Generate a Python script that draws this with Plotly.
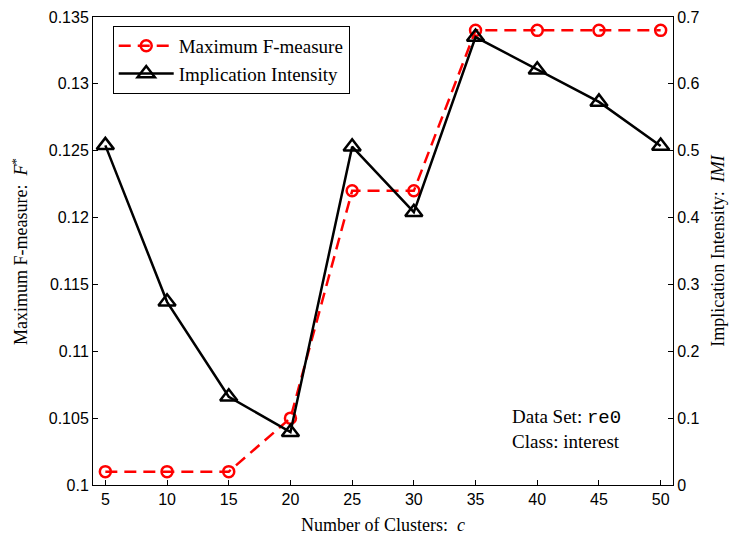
import plotly.graph_objects as go

clusters = [5, 10, 15, 20, 25, 30, 35, 40, 45, 50]
f_measure = [0.101, 0.101, 0.101, 0.105, 0.122, 0.122, 0.134, 0.134, 0.134, 0.134]
imi = [0.508, 0.274, 0.132, 0.079, 0.506, 0.408, 0.670, 0.621, 0.573, 0.507]

left_ticks = [0.1, 0.105, 0.11, 0.115, 0.12, 0.125, 0.13, 0.135]
left_labels = ["0.1", "0.105", "0.11", "0.115", "0.12", "0.125", "0.13", "0.135"]
right_ticks = [0, 0.1, 0.2, 0.3, 0.4, 0.5, 0.6, 0.7]
right_labels = ["0", "0.1", "0.2", "0.3", "0.4", "0.5", "0.6", "0.7"]

serif = "Liberation Serif"
sans = "Liberation Sans"
title_font = dict(family=serif, size=18, color="black")

fig = go.Figure()
fig.add_trace(go.Scatter(
    x=clusters, y=f_measure, name="Maximum F-measure", yaxis="y",
    mode="lines+markers",
    line=dict(color="#ff0000", width=2.5, dash="12px,7px"),
    marker=dict(symbol="circle-open", size=11, color="#ff0000", line=dict(width=2.5, color="#ff0000")),
))
fig.add_trace(go.Scatter(
    x=clusters, y=imi, name="Implication Intensity", yaxis="y2",
    mode="lines+markers",
    line=dict(color="#000000", width=2.5),
    marker=dict(symbol="triangle-up-open", size=15, color="#000000", line=dict(width=2.5, color="#000000")),
))

axis_common = dict(
    showline=True, linecolor="black", linewidth=1,
    ticks="inside", ticklen=5, tickcolor="black",
    showgrid=False, zeroline=False, automargin=False,
    tickfont=dict(family=sans, size=16, color="black"),
)

fig.update_layout(
    width=730, height=538,
    margin=dict(l=93, r=57, t=17, b=53, autoexpand=False),
    paper_bgcolor="white", plot_bgcolor="white",
    showlegend=True,
    legend=dict(
        x=0.034, y=0.981, xanchor="left", yanchor="top",
        bgcolor="white", bordercolor="black", borderwidth=1,
        font=dict(family=serif, size=19, color="black"),
        tracegroupgap=0, itemwidth=55,
    ),
    xaxis=dict(range=[4, 51], tickvals=clusters, ticktext=[str(c) for c in clusters],
               mirror=True, **axis_common),
    yaxis=dict(range=[0.1, 0.135], tickvals=left_ticks, ticktext=left_labels, **axis_common),
    yaxis2=dict(range=[0, 0.7], tickvals=right_ticks, ticktext=right_labels,
                overlaying="y", side="right", **axis_common),
    annotations=[
        dict(x=0.5, y=-0.086, xref="paper", yref="paper", xanchor="center", yanchor="middle",
             text="Number of Clusters:  <i>c</i>", showarrow=False, font=title_font),
        dict(x=-0.126, y=0.5, xref="paper", yref="paper", xanchor="center", yanchor="middle",
             text="Maximum F-measure:  <i>F</i><sup>*</sup>", showarrow=False, font=title_font, textangle=-90),
        dict(x=1.077, y=0.5, xref="paper", yref="paper", xanchor="center", yanchor="middle",
             text="Implication Intensity:  <i>IMI</i>", showarrow=False, font=title_font, textangle=-90),
        dict(
            x=0.914, y=0.12, xref="paper", yref="paper", xanchor="right", yanchor="middle",
            text="Data Set: <span style='font-family:Liberation Mono'>re0</span><br>Class: interest",
            showarrow=False, align="left",
            font=dict(family=serif, size=19, color="black"),
        ),
    ],
)

fig.write_html("out.html")
